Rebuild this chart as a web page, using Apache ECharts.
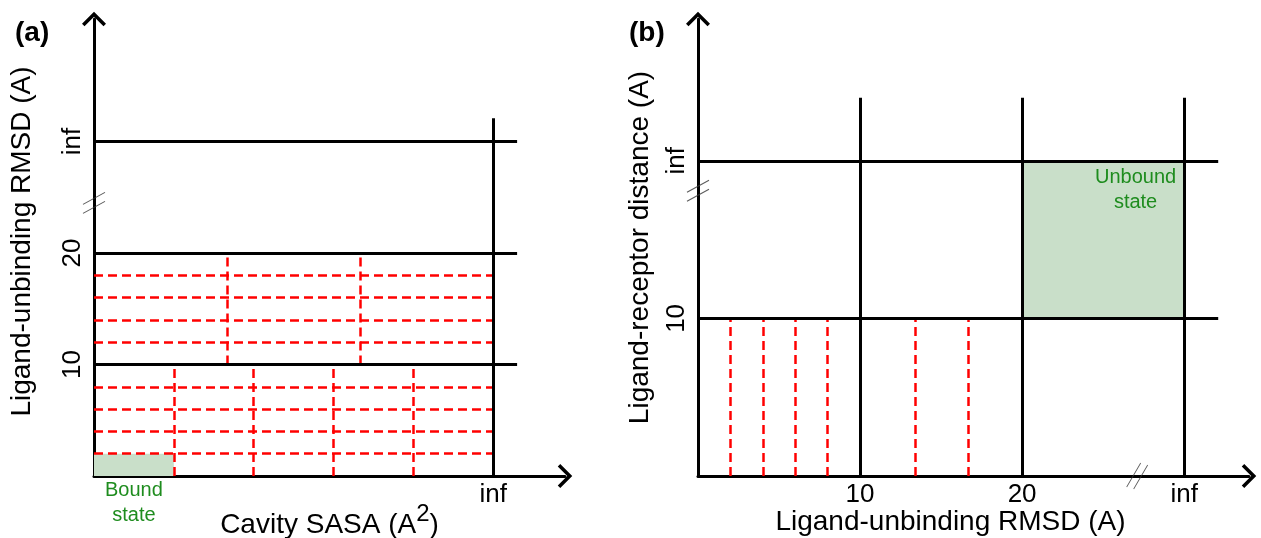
<!DOCTYPE html>
<html>
<head>
<meta charset="utf-8">
<script src="https://cdn.jsdelivr.net/npm/echarts@6/dist/echarts.min.js"></script>
<style>
html,body{margin:0;padding:0;background:#fff;}
#chart{width:1261px;height:538px;}
</style>
</head>
<body>
<div id="chart"></div>
<script>
// ---------- Panel (a): Cavity SASA vs Ligand-unbinding RMSD ----------
// "inf" is placed at value 5 on x and 30 on y (schematic positions)
const aXTickValues = [5];
const aXTickLabels = ['inf'];
const aYTickValues = [10, 20, 30];
const aYTickLabels = ['10', '20', 'inf'];
const aSolidHLevels = [10, 20, 30];      // black horizontal boundaries
const aSolidHEnd = 5.3;
const aSolidVLevels = [5];               // black vertical boundary
const aSolidVEnd = 32.1;
const aDashHLow = [2, 4, 6, 8];          // red dashed horizontals, 0-10 band
const aDashHHigh = [12, 14, 16, 18];     // red dashed horizontals, 10-20 band
const aDashVLow = [1, 2, 3, 4];          // red dashed verticals, 0-10 band
const aDashVHigh = [1.67, 3.33];         // red dashed verticals, 10-20 band
const aBoundBox = [[0, 0], [1, 2]];
const aBreaks = [[0, 24.5]];

// ---------- Panel (b): Ligand-unbinding RMSD vs Ligand-receptor distance ----------
// "inf" is placed at value 30 on x and 20 on y
const bXTickValues = [10, 20, 30];
const bXTickLabels = ['10', '20', 'inf'];
const bYTickValues = [10, 20];
const bYTickLabels = ['10', 'inf'];
const bSolidHLevels = [10, 20];
const bSolidHEnd = 32.1;
const bSolidVLevels = [10, 20, 30];
const bSolidVEnd = 24;
const bDashV = [2, 4, 6, 8, 13.4, 16.7]; // red dashed verticals, 0-10 band
const bDashTop = 10;
const bUnboundBox = [[20, 10], [30, 20]];
const bBreaksY = [[0, 18.1]];
const bBreaksX = [[27.1, 0]];

const FONT = 'Liberation Sans, Arial, sans-serif';
const ARROW = 'path://M12,0 L24,12 L21.5,14.5 L12,5 L2.5,14.5 L0,12 Z';

function fmt(values, labels) {
  return function (v) {
    for (let i = 0; i < values.length; i++) {
      if (Math.abs(values[i] - v) < 1e-6) return labels[i];
    }
    return '';
  };
}
function hSegs(levels, x0, x1) { return levels.map(y => ({ coords: [[x0, y], [x1, y]] })); }
function vSegs(levels, y0, y1) { return levels.map(x => ({ coords: [[x, y0], [x, y1]] })); }

function axisBase(extra) {
  return Object.assign({
    type: 'value',
    min: 0,
    splitLine: { show: false },
    axisTick: { show: false },
    axisLine: {
      show: true, onZero: false,
      symbol: ['none', ARROW], symbolSize: [24, 14.5],
      lineStyle: { color: '#000', width: 3 }
    },
    nameLocation: 'middle',
    nameMoveOverlap: false,
    nameTextStyle: { color: '#000', fontFamily: FONT, fontSize: 28 }
  }, extra);
}

const blackStyle = { color: '#000', width: 3, type: 'solid', opacity: 1 };
const redStyle = { color: '#ff0000', width: 2.5, type: [9, 5], opacity: 1 };
const breakSymbolY = 'path://M0,12 L22,0 M0,21 L22,9';
const breakSymbolX = 'path://M0,24 L14,0 M7,26 L21,2';

const option = {
  animation: false,
  backgroundColor: '#fff',
  title: [
    { text: '(a)', left: 10, top: 14, textStyle: { fontFamily: FONT, fontWeight: 'bold', fontSize: 28, color: '#000' } },
    { text: '(b)', left: 624, top: 14, textStyle: { fontFamily: FONT, fontWeight: 'bold', fontSize: 28, color: '#000' } }
  ],
  grid: [
    { left: 94, top: 19, width: 471, height: 457, containLabel: false, outerBoundsMode: 'none' },
    { left: 698, top: 19, width: 551, height: 457, containLabel: false, outerBoundsMode: 'none' }
  ],
  xAxis: [
    axisBase({
      gridIndex: 0, max: 5.9, interval: 5,
      name: '{n|Cavity SASA (A}{s|2}{n|)}', nameGap: 26,
      nameTextStyle: {
        color: '#000', fontFamily: FONT, fontSize: 28,
        rich: {
          n: { fontFamily: FONT, fontSize: 28, color: '#000', lineHeight: 46 },
          s: { fontFamily: FONT, fontSize: 24, color: '#000', verticalAlign: 'top', lineHeight: 24 }
        }
      },
      axisLabel: { color: '#000', fontFamily: FONT, fontSize: 26, margin: 6,
        formatter: fmt(aXTickValues, aXTickLabels) }
    }),
    axisBase({
      gridIndex: 1, max: 34, interval: 10,
      name: 'Ligand-unbinding RMSD (A)', nameGap: 32,
      nameTextStyle: { color: '#000', fontFamily: FONT, fontSize: 28, padding: [0, 46, 0, 0] },
      axisLabel: { color: '#000', fontFamily: FONT, fontSize: 26, margin: 6,
        formatter: fmt(bXTickValues, bXTickLabels) }
    })
  ],
  yAxis: [
    axisBase({
      gridIndex: 0, max: 41, interval: 10,
      name: 'Ligand-unbinding RMSD (A)', nameGap: 58,
      nameTextStyle: { color: '#000', fontFamily: FONT, fontSize: 28, padding: [0, 0, 0, 12] },
      axisLabel: { color: '#000', fontFamily: FONT, fontSize: 26, margin: 8, rotate: 90,
        formatter: fmt(aYTickValues, aYTickLabels) }
    }),
    axisBase({
      gridIndex: 1, max: 29, interval: 10,
      name: 'Ligand-receptor distance (A)', nameGap: 44,
      axisLabel: { color: '#000', fontFamily: FONT, fontSize: 26, margin: 8, rotate: 90,
        formatter: fmt(bYTickValues, bYTickLabels) }
    })
  ],
  series: [
    // Panel (a)
    {
      type: 'lines', coordinateSystem: 'cartesian2d', xAxisIndex: 0, yAxisIndex: 0, z: 3,
      lineStyle: redStyle, silent: true,
      data: [].concat(
        hSegs(aDashHLow, 0, aXTickValues[0]),
        hSegs(aDashHHigh, 0, aXTickValues[0]),
        vSegs(aDashVLow, 0, aSolidHLevels[0]),
        vSegs(aDashVHigh, aSolidHLevels[0], aSolidHLevels[1])
      ),
      markArea: {
        silent: true,
        itemStyle: { color: '#c9dfc9', opacity: 1 },
        label: { show: true, position: 'bottom', distance: 2, color: '#1e8c1e', fontFamily: FONT, fontSize: 20, lineHeight: 25, formatter: 'Bound\nstate' },
        data: [[{ coord: aBoundBox[0] }, { coord: aBoundBox[1] }]]
      }
    },
    {
      type: 'lines', coordinateSystem: 'cartesian2d', xAxisIndex: 0, yAxisIndex: 0, z: 4,
      lineStyle: blackStyle, silent: true,
      data: [].concat(
        hSegs(aSolidHLevels, 0, aSolidHEnd),
        vSegs(aSolidVLevels, 0, aSolidVEnd)
      )
    },
    {
      type: 'scatter', xAxisIndex: 0, yAxisIndex: 0, z: 5, silent: true,
      symbol: breakSymbolY, symbolSize: [22, 21],
      itemStyle: { color: 'none', borderColor: '#333', borderWidth: 1 },
      data: aBreaks
    },
    // Panel (b)
    {
      type: 'lines', coordinateSystem: 'cartesian2d', xAxisIndex: 1, yAxisIndex: 1, z: 3,
      lineStyle: redStyle, silent: true,
      data: vSegs(bDashV, 0, bDashTop),
      markArea: {
        silent: true,
        itemStyle: { color: '#c9dfc9', opacity: 1 },
        label: { show: true, position: ['70%', 4], align: 'center', verticalAlign: 'top', color: '#1e8c1e', fontFamily: FONT, fontSize: 20, lineHeight: 25, formatter: 'Unbound\nstate' },
        data: [[{ coord: bUnboundBox[0] }, { coord: bUnboundBox[1] }]]
      }
    },
    {
      type: 'lines', coordinateSystem: 'cartesian2d', xAxisIndex: 1, yAxisIndex: 1, z: 4,
      lineStyle: blackStyle, silent: true,
      data: [].concat(
        hSegs(bSolidHLevels, 0, bSolidHEnd),
        vSegs(bSolidVLevels, 0, bSolidVEnd)
      )
    },
    {
      type: 'scatter', xAxisIndex: 1, yAxisIndex: 1, z: 5, silent: true,
      symbol: breakSymbolY, symbolSize: [22, 21],
      itemStyle: { color: 'none', borderColor: '#333', borderWidth: 1 },
      data: bBreaksY
    },
    {
      type: 'scatter', xAxisIndex: 1, yAxisIndex: 1, z: 5, silent: true,
      symbol: breakSymbolX, symbolSize: [21, 26],
      itemStyle: { color: 'none', borderColor: '#333', borderWidth: 1 },
      data: bBreaksX
    }
  ]
};

const chart = echarts.init(document.getElementById('chart'), null, { renderer: 'canvas' });
chart.setOption(option);
</script>
</body>
</html>
